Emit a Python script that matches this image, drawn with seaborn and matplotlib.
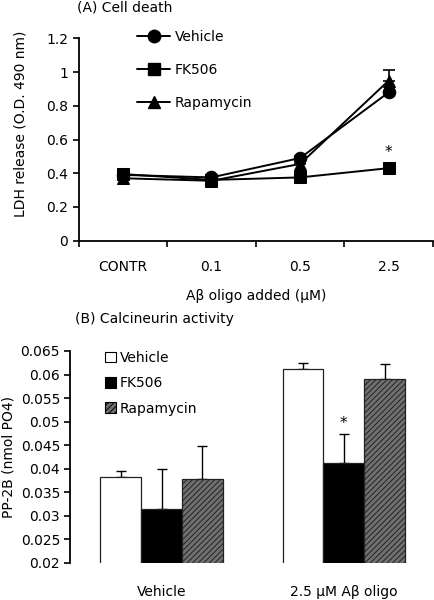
import numpy as np
import pandas as pd
import matplotlib
matplotlib.use('Agg')
import matplotlib.pyplot as plt
import seaborn as sns
from matplotlib.lines import Line2D
from matplotlib.patches import Patch

# ---- data ----
doses = ['CONTR', '0.1', '0.5', '2.5']
treatments = ['Vehicle', 'FK506', 'Rapamycin']
ldh_vehicle = [0.39, 0.375, 0.49, 0.88]
ldh_fk506 = [0.395, 0.36, 0.375, 0.43]
ldh_rapamycin = [0.37, 0.355, 0.455, 0.95]
ldh_err_vehicle = [0.01, 0.01, 0.01, 0.01]
ldh_err_fk506 = [0.01, 0.01, 0.01, 0.01]
ldh_err_rapamycin = [0.01, 0.01, 0.01, 0.06]

groups = ['Vehicle', '2.5 \u03bcM A\u03b2 oligo']
pp2b_vehicle = [0.0382, 0.0612]
pp2b_fk506 = [0.0314, 0.0413]
pp2b_rapamycin = [0.0378, 0.0590]
pp2b_err_vehicle = [0.0012, 0.0013]
pp2b_err_fk506 = [0.0085, 0.0060]
pp2b_err_rapamycin = [0.0070, 0.0033]

sns.set_style('ticks')
plt.rcParams['font.family'] = ['DejaVu Sans']
plt.rcParams['font.size'] = 10
plt.rcParams['hatch.linewidth'] = 0.7
for k in ['text.color', 'axes.labelcolor', 'xtick.color', 'ytick.color', 'axes.edgecolor']:
    plt.rcParams[k] = 'black'

fig = plt.figure(figsize=(4.35, 6), dpi=100)

# ---------------- (A) Cell death ----------------
ax1 = fig.add_axes([0.1805, 0.599, 0.815, 0.337])
xpos = np.arange(len(doses))
lines_df = pd.DataFrame({
    'x': np.tile(xpos, 3),
    'ldh': ldh_vehicle + ldh_fk506 + ldh_rapamycin,
    'treatment': np.repeat(treatments, len(doses)),
})
markers = {'Vehicle': 'o', 'FK506': 's', 'Rapamycin': '^'}
for t, err in zip(treatments, [ldh_err_vehicle, ldh_err_fk506, ldh_err_rapamycin]):
    sub = lines_df[lines_df.treatment == t]
    ax1.errorbar(sub.x, sub.ldh, yerr=[np.zeros(len(err)), err], fmt='none',
                 ecolor='black', elinewidth=1.2, capsize=4, capthick=1.2, zorder=1)
    sns.lineplot(data=sub, x='x', y='ldh', ax=ax1, color='black', lw=1.4,
                 marker=markers[t], markersize=9, markeredgecolor='black',
                 errorbar=None, legend=False, zorder=2)

ax1.set_xlim(-0.5, 3.5)
ax1.set_ylim(0, 1.2)
ax1.set_yticks([0, 0.2, 0.4, 0.6, 0.8, 1.0, 1.2])
ax1.set_yticklabels(['0', '0.2', '0.4', '0.6', '0.8', '1', '1.2'])
ax1.set_xticks(np.arange(-0.5, 3.6, 1))
ax1.set_xticklabels([])
ax1.set_xticks(xpos, minor=True)
ax1.set_xticklabels(doses, minor=True)
ax1.tick_params(axis='x', which='minor', length=0, pad=14)
ax1.tick_params(axis='both', which='major', length=4, width=1.2, direction='out')
for s in ['left', 'bottom']:
    ax1.spines[s].set_linewidth(1.3)
sns.despine(ax=ax1)
ax1.set_xlabel('A\u03b2 oligo added (\u03bcM)', labelpad=11)
ax1.set_ylabel('LDH release (O.D. 490 nm)')
ax1.yaxis.set_label_coords(-0.145, 0.577)
ax1.text(3, 0.525, '*', ha='center', va='center', fontsize=11)
handles = [Line2D([], [], color='black', lw=1.4, marker=markers[t], markersize=9)
           for t in treatments]
ax1.legend(handles, treatments, loc='upper left', bbox_to_anchor=(0.13, 1.105),
           frameon=False, labelspacing=1.38, handlelength=2.4, handletextpad=0.3)
fig.text(0.178, 0.988, '(A) Cell death', ha='left', va='center')

# ---------------- (B) Calcineurin activity ----------------
ax2 = fig.add_axes([0.162, 0.062, 0.838, 0.353])
bar_df = pd.DataFrame({
    'group': np.tile(groups, 3),
    'pp2b': pp2b_vehicle + pp2b_fk506 + pp2b_rapamycin,
    'treatment': np.repeat(treatments, len(groups)),
})
sns.barplot(data=bar_df, x='group', y='pp2b', hue='treatment', ax=ax2,
            palette=['white', 'black', 'white'], edgecolor='#222222',
            linewidth=0.9, width=0.672, errorbar=None, legend=False)
# bars come in hue order: vehicle, fk506, rapamycin
bars = ax2.patches
for p in bars[4:6]:
    p.set_hatch('//////')
    p.set_facecolor('#707070')

bw = 0.672 / 3
xs = np.arange(len(groups))
for i, err in enumerate([pp2b_err_vehicle, pp2b_err_fk506, pp2b_err_rapamycin]):
    vals = [pp2b_vehicle, pp2b_fk506, pp2b_rapamycin][i]
    ax2.errorbar(xs + (i - 1) * bw, vals, yerr=[np.zeros(2), err], fmt='none',
                 ecolor='black', elinewidth=1, capsize=3.5, capthick=1, zorder=0.5)
ax2.text(1, 0.0497, '*', ha='center', va='center', fontsize=11)

ax2.set_xlim(-0.5, 1.5)
ax2.set_ylim(0.02, 0.065)
yt = np.arange(0.02, 0.0651, 0.005)
ax2.set_yticks(yt)
ax2.set_yticklabels(['0.02', '0.025', '0.03', '0.035', '0.04', '0.045',
                     '0.05', '0.055', '0.06', '0.065'])
ax2.tick_params(axis='x', length=0, pad=16)
ax2.tick_params(axis='y', length=4, width=1.2, direction='out')
ax2.spines['left'].set_linewidth(1.3)
sns.despine(ax=ax2, bottom=True)
ax2.set_xlabel('')
ax2.set_ylabel('PP-2B (nmol PO4)')
ax2.yaxis.set_label_coords(-0.152, 0.5)
leg_handles = [Patch(facecolor='white', edgecolor='black', lw=0.8),
               Patch(facecolor='black', edgecolor='black', lw=0.8),
               Patch(facecolor='#707070', edgecolor='black', hatch='//////', lw=0.8)]
ax2.legend(leg_handles, treatments, loc='upper left', bbox_to_anchor=(0.06, 1.06),
           frameon=False, handlelength=0.8, handleheight=0.8, labelspacing=0.82,
           handletextpad=0.25)
fig.text(0.172, 0.468, '(B) Calcineurin activity', ha='left', va='center')

fig.savefig('out.png', dpi=100)
